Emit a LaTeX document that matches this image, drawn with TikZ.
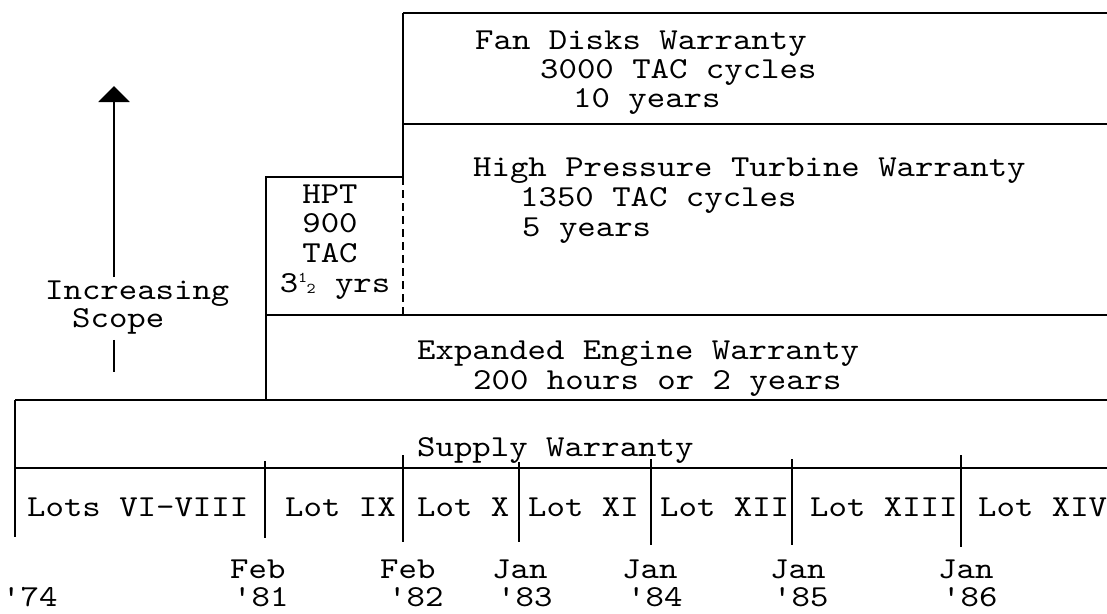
\documentclass[tikz,border=0pt]{standalone}
\usepackage{fontspec}
\newfontfamily\tw{lmmono10-regular.otf}[FakeStretch=1.15]
\usetikzlibrary{arrows.meta}
\newcommand\myhalf{\makebox[0.604em][l]{\fontsize{15}{15}\selectfont\raisebox{10pt}{1}\kern-0.5pt\raisebox{-1pt}{2}}}
\begin{document}
\begin{tikzpicture}[x=1pt,y=-1pt,
  txt/.style={font=\tw\fontsize{30.5}{30}\selectfont,inner sep=0pt,anchor=base west},
  ctxt/.style={txt,anchor=base},
  rule/.style={line width=2.3pt,line cap=butt},
  dashrule/.style={line width=2.3pt,dash pattern=on 8pt off 5pt}]
\useasboundingbox (0,0) rectangle (1107,613);

% ---- frame lines ----
\draw[rule] (403,13) -- (1107,13);
\draw[rule] (403,124) -- (1107,124);
\draw[rule] (403,13) -- (403,177);
\draw[rule] (266,315) -- (266,177) -- (403,177);
\draw[dashrule] (403,177) -- (403,315);
\draw[rule] (266,315) -- (1107,315);
\draw[rule] (266,315) -- (266,400);
\draw[rule] (15,400) -- (1107,400);
\draw[rule] (15,400) -- (15,537);
\draw[rule] (15,468) -- (1107,468);
% ticks
\draw[rule] (265,461) -- (265,538);
\draw[rule] (403,455) -- (403,542);
\draw[rule] (519,462) -- (519,542);
\draw[rule] (651,459) -- (651,545);
\draw[rule] (792,459) -- (792,545);
\draw[rule] (961,455) -- (961,547);

% ---- Fan disks ----
\node[txt] (fan1) at (475,49) {Fan Disks Warranty};
\node[txt] (fan2) at (540,78) {3000 TAC cycles};
\node[txt] (fan3) at (573,107) {10 years};

% ---- HPT warranty ----
\node[txt] (hw1) at (473,176) {High Pressure Turbine Warranty};
\node[txt] (hw2) at (520,206) {1350 TAC cycles};
\node[txt] (hw3) at (522,236) {5 years};

% ---- HPT small box ----
\node[ctxt] (h1) at (330,203) {HPT};
\node[ctxt] (h2) at (330,232) {900};
\node[ctxt] (h3) at (330,262) {TAC};
\node[ctxt] (h4) at (335,292) {3\myhalf{} yrs};

% ---- Expanded ----
\node[txt] (ex1) at (417,359) {Expanded Engine Warranty};
\node[txt] (ex2) at (473,389) {200 hours or 2 years};

% ---- Supply ----
\node[txt] (sup) at (417,456) {Supply Warranty};

% ---- Lots ----
\node[txt] (l1) at (27,516) {Lots VI-VIII};
\node[txt] (l2) at (285,516) {Lot IX};
\node[txt] (l3) at (417,516) {Lot X};
\node[txt] (l4) at (528,516) {Lot XI};
\node[txt] (l5) at (660,516) {Lot XII};
\node[txt] (l6) at (810,516) {Lot XIII};
\node[txt] (l7) at (978,516) {Lot XIV};

% ---- dates ----
\node[txt] (d0) at (2,606) {'74};
\node[txt] (d1a) at (230,578) {Feb};
\node[txt] (d1b) at (233,606) {'81};
\node[txt] (d2a) at (380,578) {Feb};
\node[txt] (d2b) at (388,606) {'82};
\node[txt] (d3a) at (492,578) {Jan};
\node[txt] (d3b) at (497,606) {'83};
\node[txt] (d4a) at (622,578) {Jan};
\node[txt] (d4b) at (627,606) {'84};
\node[txt] (d5a) at (770,578) {Jan};
\node[txt] (d5b) at (773,606) {'85};
\node[txt] (d6a) at (938,578) {Jan};
\node[txt] (d6b) at (942,606) {'86};

% ---- Increasing scope arrow ----
\node[txt] (inc) at (45,299) {Increasing};
\node[txt] (scp) at (72,327) {Scope};
\coordinate (tip) at (114,86);
\coordinate (tail) at (114,372);
\draw[rule,-{Triangle[width=31pt,length=16pt]}] (tip |- inc.north) ++(0,-3) -- (tip);
\draw[rule] (tip |- scp.south) ++(0,6) -- (tail);
\end{tikzpicture}
\end{document}
